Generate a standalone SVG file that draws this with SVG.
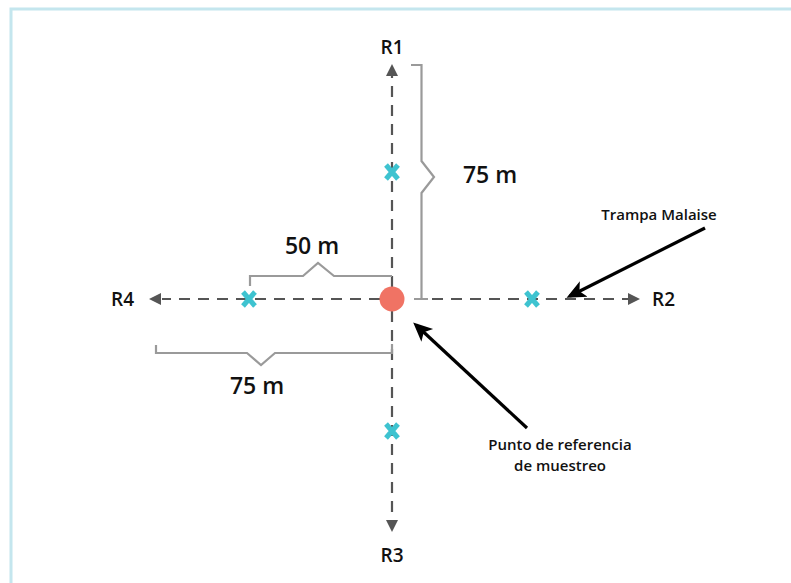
<svg xmlns="http://www.w3.org/2000/svg" width="791" height="583" viewBox="0 0 791 583">
<style>
.axis{stroke:#555;stroke-width:2.2;stroke-dasharray:11 8;fill:none}
.brk{stroke:#9a9a9a;stroke-width:2.2;fill:none;stroke-linejoin:miter}
.ptr{stroke:#000;stroke-width:3.2;fill:none}
.lbl{font-family:"Open Sans","Noto Sans",sans-serif;fill:#111}
.big{font-size:23px;font-weight:600}
.r{font-size:19px;font-weight:600}
.sm{font-size:15px;font-weight:600}
.x{stroke:#3ec3d0;stroke-width:5;stroke-linecap:butt}
</style>
<defs>
<marker id="bh" viewBox="0 0 10 10" refX="8" refY="5" markerWidth="6" markerHeight="6" orient="auto">
<path d="M0,0.5 L10,5 L0,9.5 L2.5,5 z" fill="#000"/>
</marker>
</defs>
<rect x="0" y="0" width="791" height="583" fill="#fff"/>
<path d="M11,583 V9 H791" fill="none" stroke="#c4e6ee" stroke-width="3"/>
<g id="connectors">
<line class="axis" x1="392" y1="287" x2="392" y2="76"/>
<path d="M386,76 L392,64 L398,76 z" fill="#555"/>
<line class="axis" x1="392" y1="311" x2="392" y2="520"/>
<path d="M386,520 L392,532 L398,520 z" fill="#555"/>
<line class="axis" x1="380" y1="299" x2="162" y2="299"/>
<path d="M161,293 L149,299 L161,305 z" fill="#555"/>
<line class="axis" x1="432" y1="299" x2="628" y2="299"/>
<path d="M628,293 L640,299 L628,305 z" fill="#555"/>
<line class="ptr" x1="705" y1="228" x2="570" y2="296" marker-end="url(#bh)"/>
<line class="ptr" x1="527" y1="428" x2="416" y2="325" marker-end="url(#bh)"/>
</g>
<g id="brackets">
<path class="brk" d="M411,65 H421.5 V161 L434,177 L421.5,193 V299 M414,299 H428"/>
<path class="brk" d="M250,286 V276 H303 L318,263 L334,276 H392"/>
<path class="brk" d="M156,345 V353 H247 L261,365 L275,353 H392 V344"/>
</g>
<g id="origin"><circle cx="392" cy="299" r="12.5" fill="#f07364"/></g>
<g id="markers">
<path class="x" d="M386,165 L398,179 M398,165 L386,179"/>
<path class="x" d="M243,292 L255,306 M255,292 L243,306"/>
<path class="x" d="M526,292 L538,306 M538,292 L526,306"/>
<path class="x" d="M386,424 L398,438 M398,424 L386,438"/>
</g>
<g id="labels">
<text class="lbl r" x="392" y="54" text-anchor="middle">R1</text>
<text class="lbl r" x="652" y="306">R2</text>
<text class="lbl r" x="392" y="562" text-anchor="middle">R3</text>
<text class="lbl r" x="111" y="306">R4</text>
<text class="lbl big" x="490" y="183" text-anchor="middle">75 m</text>
<text class="lbl big" x="312" y="254" text-anchor="middle">50 m</text>
<text class="lbl big" x="257" y="394" text-anchor="middle">75 m</text>
<text class="lbl sm" x="659" y="220" text-anchor="middle">Trampa Malaise</text>
<text class="lbl sm" x="560" y="450" text-anchor="middle">Punto de referencia</text>
<text class="lbl sm" x="560" y="471" text-anchor="middle">de muestreo</text>
</g>
</svg>
